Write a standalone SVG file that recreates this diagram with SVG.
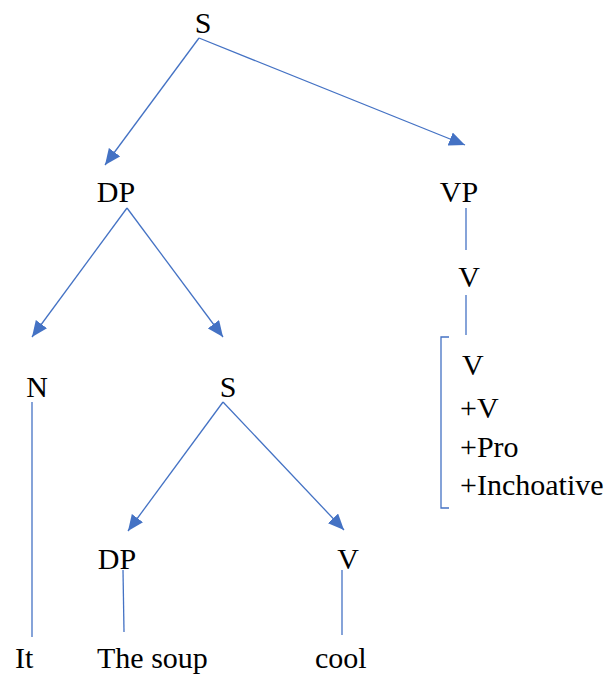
<svg xmlns="http://www.w3.org/2000/svg" width="616" height="677" viewBox="0 0 616 677">
<defs>
<style>
.c{text-anchor:middle}
.l{stroke:#4472C4;stroke-width:1.3;fill:none}
</style>
<marker id="ah" viewBox="0 0 16 14" refX="16" refY="7" markerWidth="16" markerHeight="14" markerUnits="userSpaceOnUse" orient="auto">
<path d="M0,0 L16,7 L0,14 Z" fill="#4472C4"/>
</marker>
</defs>
<rect width="616" height="677" fill="#fff"/>
<g id="connectors">
<line class="l" x1="199" y1="38" x2="105" y2="165" marker-end="url(#ah)"/>
<line class="l" x1="199" y1="38" x2="465" y2="145" marker-end="url(#ah)"/>
<line class="l" x1="127" y1="208" x2="32" y2="337" marker-end="url(#ah)"/>
<line class="l" x1="127" y1="208" x2="223" y2="337" marker-end="url(#ah)"/>
<line class="l" x1="223" y1="402" x2="128" y2="531" marker-end="url(#ah)"/>
<line class="l" x1="223" y1="402" x2="344" y2="530" marker-end="url(#ah)"/>
<line class="l" x1="32" y1="402" x2="32" y2="637"/>
<line class="l" x1="123" y1="570" x2="124" y2="632"/>
<line class="l" x1="342" y1="570" x2="342" y2="635"/>
<line class="l" x1="466" y1="208" x2="466" y2="250"/>
<line class="l" x1="466" y1="295" x2="466" y2="335"/>
<path class="l" d="M449,337 H441 V508 H449"/>
</g>
<g font-family="Liberation Serif, DejaVu Serif, serif" font-size="30" fill="#000">
<g id="n-S"><text class="c" x="203" y="33">S</text></g>
<g id="n-DP"><text class="c" x="116" y="202">DP</text></g>
<g id="n-VP"><text class="c" x="459" y="202">VP</text></g>
<g id="n-N"><text class="c" x="37" y="397">N</text></g>
<g id="n-S2"><text class="c" x="228" y="397">S</text></g>
<g id="n-V1"><text class="c" x="469" y="287">V</text></g>
<g id="n-feat">
<text x="462" y="375">V</text>
<text x="460" y="418">+V</text>
<text x="460" y="457">+Pro</text>
<text x="460" y="495">+Inchoative</text>
</g>
<g id="n-DP2"><text class="c" x="117" y="569">DP</text></g>
<g id="n-V2"><text class="c" x="348" y="569">V</text></g>
<g id="n-It"><text x="15" y="668">It</text></g>
<g id="n-soup"><text x="97" y="668">The soup</text></g>
<g id="n-cool"><text x="315" y="668">cool</text></g>
</g>
</svg>
